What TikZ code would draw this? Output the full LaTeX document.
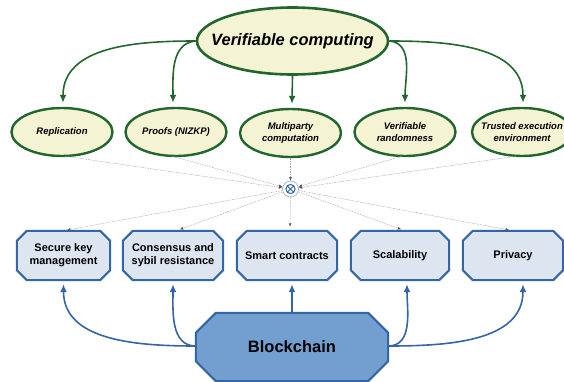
\documentclass[tikz,border=0pt]{standalone}
\usepackage{fontspec}
\setmainfont{Liberation Sans}
\usetikzlibrary{shapes.geometric,arrows.meta,backgrounds,calc}
\definecolor{vgreen}{RGB}{34,102,46}
\definecolor{vcream}{RGB}{244,244,212}
\definecolor{bblue}{RGB}{52,101,164}
\definecolor{ofill}{RGB}{221,230,240}
\definecolor{bfill}{RGB}{114,159,207}
\definecolor{dgray}{RGB}{168,168,168}
\definecolor{tipgray}{RGB}{90,90,90}
\definecolor{mixring}{RGB}{140,170,205}
\tikzset{
  vcell/.style={ellipse, draw=vgreen, line width=2.4pt, fill=vcream,
    minimum width=101pt, minimum height=48pt, inner xsep=-8pt, inner ysep=0pt,
    font=\fontsize{9.5}{12}\selectfont\bfseries\itshape, align=center},
  garrow/.style={draw=vgreen, line width=1.6pt, -{Latex[length=8pt,width=7pt]}},
  barrow/.style={draw=bblue, line width=1.6pt, -{Latex[length=8pt,width=7pt]}},
  dline/.style={draw=dgray, line width=0.45pt, dash pattern=on 1.6pt off 1pt,
    -{Latex[length=3.5pt,width=3pt,color=tipgray]}},
  obox/.style={rectangle, minimum height=49pt, inner sep=0pt,
    font=\fontsize{11}{13}\selectfont\bfseries, align=center},
  octline/.style={draw=bblue, line width=2pt, fill=ofill, line join=miter},
  bigoct/.style={draw=bblue, line width=2pt, fill=bfill, line join=miter},
}
\newcommand\octo[3]{%
  \draw[#3] ([xshift=#2]#1.north west) -- ([xshift=-#2]#1.north east)
    -- ([yshift=-#2]#1.north east) -- ([yshift=#2]#1.south east)
    -- ([xshift=-#2]#1.south east) -- ([xshift=#2]#1.south west)
    -- ([yshift=#2]#1.south west) -- ([yshift=-#2]#1.north west) -- cycle;}
\begin{document}
\begin{tikzpicture}[x=1pt,y=-1pt]
\useasboundingbox (0,0) rectangle (564,382);
% top ellipse
\node[ellipse, draw=vgreen, line width=2.6pt, fill=vcream, minimum width=191pt,
  minimum height=67pt, inner xsep=-22pt, inner ysep=0pt,
  font=\fontsize{16.5}{18}\selectfont\bfseries\itshape] (vc) at (292.5,41) {Verifiable computing};
% second row
\node[vcell] (rep) at (62,132) {Replication};
\node[vcell] (prf) at (176,132) {Proofs (NIZKP)};
\node[vcell] (mpc) at (290.5,133) {Multiparty\\computation};
\node[vcell] (vrn) at (405,132) {Verifiable\\randomness};
\node[vcell, minimum width=100pt] (tee) at (522,132) {Trusted execution\\environment};
% mixing node
\node[circle, draw=mixring, line width=0.6pt, fill=white, minimum size=16pt, inner sep=0pt] (mix) at (290.5,189) {};
\draw[bblue, line width=1pt] (mix.center) circle (4.6pt)
  ([shift={(-3.2pt,-3.2pt)}]mix.center) -- ([shift={(3.2pt,3.2pt)}]mix.center)
  ([shift={(-3.2pt,3.2pt)}]mix.center) -- ([shift={(3.2pt,-3.2pt)}]mix.center);
% octagons
\node[obox, minimum width=93pt] (skm) at (63.5,255.5) {Secure key\\management};
\node[obox, minimum width=100pt] (cns) at (173,255.5) {Consensus and\\sybil resistance};
\node[obox, minimum width=100pt] (smc) at (287,255.5) {Smart contracts};
\node[obox, minimum width=98pt] (scl) at (400,255.5) {Scalability};
\node[obox, minimum width=100pt] (prv) at (513,255.5) {Privacy};
\node[rectangle, minimum width=192pt, minimum height=68pt, inner sep=0pt,
  font=\fontsize{16.5}{18}\selectfont\bfseries] (bc) at (292,347) {Blockchain};
\begin{pgfonlayer}{background}
  \octo{skm}{10pt}{octline}
  \octo{cns}{10pt}{octline}
  \octo{smc}{10pt}{octline}
  \octo{scl}{10pt}{octline}
  \octo{prv}{10pt}{octline}
  \octo{bc}{20pt}{bigoct}
\end{pgfonlayer}
% green arrows
\draw[garrow] (vc.west) to[out=180,in=90] ([xshift=1pt,yshift=4pt]rep.north);
\draw[garrow] (vc.west) to[out=185,in=90] ([xshift=-3pt,yshift=4pt]prf.north);
\draw[garrow] (vc.south) -- ([xshift=1.5pt,yshift=4pt]mpc.north);
\draw[garrow] (vc.east) to[out=-5,in=90] ([yshift=4pt]vrn.north);
\draw[garrow] (vc.east) to[out=0,in=90] ([xshift=1pt,yshift=4pt]tee.north);
% dotted lines into mixing node
\draw[dline] ([xshift=3pt,yshift=1pt]rep.south) -- (mix);
\draw[dline] ([xshift=-4pt,yshift=1pt]prf.south) -- (mix);
\draw[dline] (mpc.south) -- (mix);
\draw[dline] ([xshift=-3pt,yshift=1pt]vrn.south) -- (mix);
\draw[dline] ([xshift=-6pt,yshift=1pt]tee.south) -- (mix);
% dotted lines out of mixing node
\draw[dline, shorten >=4pt] (mix) -- ([xshift=-0.5pt]skm.north);
\draw[dline, shorten >=4pt] (mix) -- ([xshift=3pt]cns.north);
\draw[dline, shorten >=4pt] (mix) -- ([xshift=3pt]smc.north);
\draw[dline, shorten >=4pt] (mix) -- ([xshift=5pt]scl.north);
\draw[dline, shorten >=4pt] (mix) -- (prv.north);
% blue arrows
\draw[barrow] ([yshift=1pt]bc.west) to[out=180,in=-90] ([yshift=-4pt]skm.south);
\draw[barrow] ([yshift=1pt]bc.west) to[out=180,in=-90] ([yshift=-4pt]cns.south);
\draw[barrow] ([xshift=0pt]bc.north) -- ([xshift=5pt,yshift=-4pt]smc.south);
\draw[barrow] ([yshift=1pt]bc.east) to[out=0,in=-90] ([xshift=7pt,yshift=-4pt]scl.south);
\draw[barrow] ([yshift=1pt]bc.east) to[out=0,in=-90] ([xshift=10pt,yshift=-4pt]prv.south);
\end{tikzpicture}
\end{document}
